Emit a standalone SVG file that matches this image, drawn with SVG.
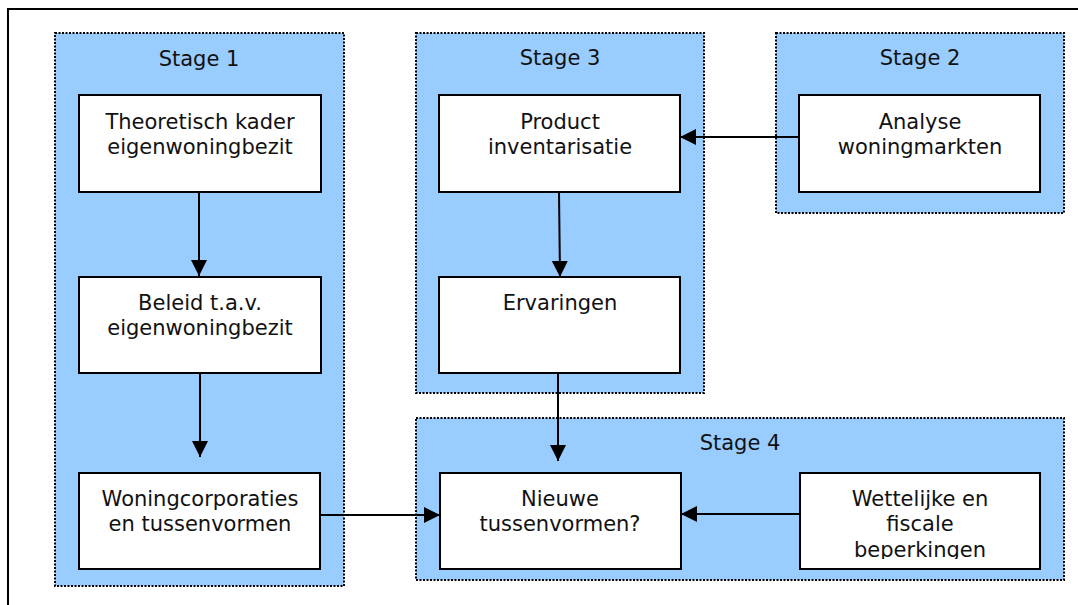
<svg xmlns="http://www.w3.org/2000/svg" width="1078" height="605" viewBox="0 0 1078 605">
<style>
.stage{fill:#99CCFF;stroke:#000;stroke-width:2;stroke-dasharray:2 1.5}
.box{fill:#fff;stroke:#000;stroke-width:2}
text{font-family:"DejaVu Sans",Verdana,sans-serif;font-size:21px;fill:#111;text-anchor:middle}
.conn{stroke:#000;stroke-width:2;fill:none;marker-end:url(#ah)}
</style>
<defs>
<marker id="ah" markerUnits="userSpaceOnUse" markerWidth="18" markerHeight="18" refX="16" refY="8" orient="auto">
<path d="M0,0 L16,8 L0,16 Z" fill="#000"/>
</marker>
<clipPath id="clipW"><rect x="800" y="473" width="240" height="86"/></clipPath>
</defs>
<rect width="1078" height="605" fill="#fff"/>
<path d="M8,605 V9 H1078" fill="none" stroke="#000" stroke-width="2"/>
<g id="stage1">
<rect class="stage" x="55" y="33" width="289" height="553"/>
<text x="199" y="66">Stage 1</text>
</g>
<g id="stage3">
<rect class="stage" x="416" y="33" width="288" height="360"/>
<text x="560" y="65">Stage 3</text>
</g>
<g id="stage2">
<rect class="stage" x="776" y="33" width="288" height="180"/>
<text x="920" y="65">Stage 2</text>
</g>
<g id="stage4">
<rect class="stage" x="416" y="418" width="648" height="162"/>
<text x="740" y="450">Stage 4</text>
</g>
<g id="theoretisch">
<rect class="box" x="79" y="95" width="242" height="97"/>
<text x="200" y="129">Theoretisch kader</text>
<text x="200" y="154">eigenwoningbezit</text>
</g>
<g id="beleid">
<rect class="box" x="79" y="277" width="242" height="96"/>
<text x="200" y="310">Beleid t.a.v.</text>
<text x="200" y="335">eigenwoningbezit</text>
</g>
<g id="woningcorporaties">
<rect class="box" x="79" y="473" width="241" height="96"/>
<text x="200" y="506">Woningcorporaties</text>
<text x="200" y="531">en tussenvormen</text>
</g>
<g id="product">
<rect class="box" x="439" y="95" width="241" height="97"/>
<text x="560" y="129">Product</text>
<text x="560" y="154">inventarisatie</text>
</g>
<g id="ervaringen">
<rect class="box" x="439" y="277" width="241" height="96"/>
<text x="560" y="310">Ervaringen</text>
</g>
<g id="analyse">
<rect class="box" x="799" y="95" width="241" height="97"/>
<text x="920" y="129">Analyse</text>
<text x="920" y="154">woningmarkten</text>
</g>
<g id="nieuwe">
<rect class="box" x="440" y="473" width="241" height="96"/>
<text x="560" y="506">Nieuwe</text>
<text x="560" y="531">tussenvormen?</text>
</g>
<g id="wettelijke">
<rect class="box" x="800" y="473" width="240" height="96"/>
<g clip-path="url(#clipW)">
<text x="920" y="506">Wettelijke en</text>
<text x="920" y="531">fiscale</text>
<text x="920" y="557">beperkingen</text>
</g>
</g>
<g id="connectors">
<line class="conn" x1="199" y1="192" x2="199" y2="276"/>
<line class="conn" x1="200" y1="373" x2="200" y2="457"/>
<line class="conn" x1="559" y1="192" x2="560" y2="277"/>
<line class="conn" x1="558" y1="373" x2="558" y2="461"/>
<line class="conn" x1="799" y1="137" x2="680" y2="137"/>
<line class="conn" x1="320" y1="515" x2="440" y2="515"/>
<line class="conn" x1="800" y1="514" x2="681" y2="514"/>
</g>
</svg>
